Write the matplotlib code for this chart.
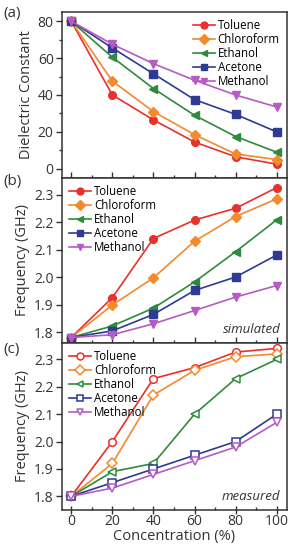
import matplotlib.pyplot as plt
from matplotlib.ticker import MultipleLocator

plt.rcParams['font.family'] = ['Open Sans', 'DejaVu Sans']

conc = [0, 20, 40, 60, 80, 100]
solvents = ["Toluene", "Chloroform", "Ethanol", "Acetone", "Methanol"]
colors = ["#e8302c", "#f28a2e", "#2f8a3c", "#2f3a94", "#b65ac4"]
markers = ["o", "D", "<", "s", "v"]

# (a) dielectric constant
dielectric = [
    [80, 40, 26.5, 14.5, 6.5, 2.5],
    [80, 47.5, 31, 18.5, 8, 5],
    [80, 60.5, 43.5, 29, 17.5, 9],
    [80, 65.5, 51.5, 37.5, 29.5, 20],
    [80, 67.5, 57, 48, 40, 33.5],
]

# (b) simulated frequency (GHz)
simulated = [
    [1.78, 1.925, 2.14, 2.207, 2.25, 2.325],
    [1.78, 1.898, 1.997, 2.13, 2.22, 2.284],
    [1.78, 1.822, 1.887, 1.982, 2.092, 2.208],
    [1.78, 1.804, 1.864, 1.951, 2.0, 2.08],
    [1.78, 1.79, 1.83, 1.878, 1.927, 1.969],
]

# (c) measured frequency (GHz)
measured = [
    [1.8, 2.0, 2.23, 2.27, 2.327, 2.34],
    [1.8, 1.92, 2.17, 2.26, 2.31, 2.32],
    [1.8, 1.89, 1.92, 2.1, 2.23, 2.3],
    [1.8, 1.85, 1.9, 1.95, 2.0, 2.1],
    [1.8, 1.83, 1.88, 1.93, 1.98, 2.07],
]

fig = plt.figure(figsize=(2.98, 5.5), dpi=100)
left, width = 62 / 298, 225 / 298
bounds = [(12, 178), (178, 343), (343, 510)]
axes = []
for top, bot in bounds:
    ax = fig.add_axes([left, 1 - bot / 550, width, (bot - top) / 550])
    axes.append(ax)

tick_fs = 10
ink = "#333333"
leg_kw = dict(frameon=False, fontsize=8.3, handlelength=1.9,
              handletextpad=0.25, labelspacing=0.08, borderaxespad=0.25,
              markerscale=0.9)
for i, (ax, data) in enumerate(zip(axes, [dielectric, simulated, measured])):
    for name, col, mk, vals in zip(solvents, colors, markers, data):
        if i == 2:
            ax.plot(conc, vals, color=col, marker=mk, lw=1.2, ms=5.5,
                    mfc="white", mec=col, mew=1.1, label=name)
        else:
            ax.plot(conc, vals, color=col, marker=mk, lw=1.2, ms=5.5,
                    mec=col, label=name)
    ax.set_xlim(-4.5, 105)
    ax.xaxis.set_major_locator(MultipleLocator(20))
    ax.xaxis.set_minor_locator(MultipleLocator(10))
    for s in ax.spines.values():
        s.set_linewidth(1.1)
        s.set_color(ink)
    ax.tick_params(axis="y", which="both", direction="out", right=False,
                   labelsize=tick_fs, colors=ink, width=1, pad=2)
    ax.tick_params(axis="x", which="both", direction="in", top=False,
                   labelsize=tick_fs, colors=ink, width=1)
    ax.tick_params(which="major", length=4)
    ax.tick_params(which="minor", length=2.5)
    if i < 2:
        ax.tick_params(axis="x", labelbottom=False)

axes[0].set_ylim(-5, 85)
axes[0].yaxis.set_major_locator(MultipleLocator(20))
axes[0].yaxis.set_minor_locator(MultipleLocator(10))
axes[0].set_ylabel("Dielectric Constant", fontsize=10.5, color=ink, labelpad=3)
axes[0].legend(loc="upper right", **leg_kw)

axes[1].set_ylim(1.76, 2.36)
axes[1].yaxis.set_major_locator(MultipleLocator(0.1))
axes[1].set_ylabel("Frequency (GHz)", fontsize=10.5, color=ink, labelpad=3)
axes[1].legend(loc="upper left", **leg_kw)
axes[1].text(0.97, 0.04, "simulated", transform=axes[1].transAxes,
             ha="right", va="bottom", style="italic", fontsize=9.5, color=ink)

axes[2].set_ylim(1.75, 2.36)
axes[2].yaxis.set_major_locator(MultipleLocator(0.1))
axes[2].set_ylabel("Frequency (GHz)", fontsize=10.5, color=ink, labelpad=3)
axes[2].tick_params(axis="x", which="major", direction="inout", length=6,
                    pad=0)
axes[2].legend(loc="upper left", **leg_kw)
axes[2].text(0.97, 0.04, "measured", transform=axes[2].transAxes,
             ha="right", va="bottom", style="italic", fontsize=9.5, color=ink)
axes[2].set_xlabel("Concentration (%)", fontsize=10.5, color=ink, labelpad=0)

for lbl, y in zip(["(a)", "(b)", "(c)"], [14, 181, 350]):
    fig.text(3 / 298, 1 - y / 550, lbl, fontsize=11, va="center",
             ha="left", color=ink)

fig.savefig("out.png", dpi=100)
